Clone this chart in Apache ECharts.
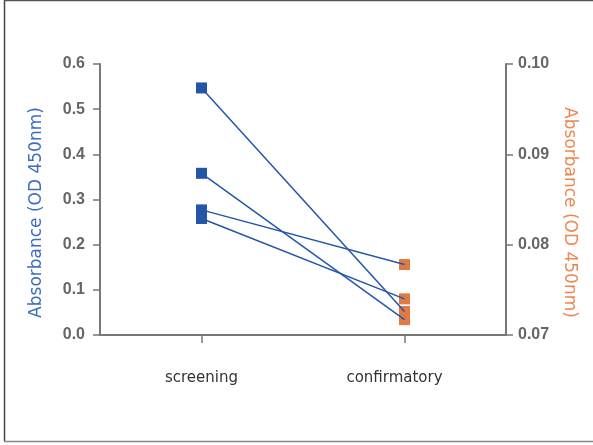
<!DOCTYPE html>
<html>
<head>
<meta charset="utf-8">
<script src="https://cdn.jsdelivr.net/npm/echarts@6/dist/echarts.min.js"></script>
<style>
html,body{margin:0;padding:0;background:#fff;}
#chart{width:593px;height:445px;}
</style>
</head>
<body>
<div id="chart"></div>
<script>
const categories = ['screening', 'confirmatory'];
const screeningValues = [0.547, 0.358, 0.277, 0.258];      // left axis
const confirmatoryValues = [0.0726, 0.0717, 0.0778, 0.0740]; // right axis, paired by index
const leftTicks = [0.0, 0.6, 0.1];
const rightTicks = [0.07, 0.10, 0.01];
const axisTitle = 'Absorbance (OD 450nm)';

const [lMin, lMax, lInt] = leftTicks;
const [rMin, rMax, rInt] = rightTicks;
// express a right-axis value on the left axis scale (both axes share the same plot height)
const toLeft = v => lMin + (v - rMin) / (rMax - rMin) * (lMax - lMin);

const blue = '#2356a8';
const orange = '#e07a43';
const axisGray = '#777';
const labelGray = '#666';

const series = [];
screeningValues.forEach((s, i) => {
  series.push({
    type: 'line',
    xAxisIndex: 0, yAxisIndex: 0,
    data: [[categories[0], s], [categories[1], toLeft(confirmatoryValues[i])]],
    showSymbol: false, symbol: 'none',
    lineStyle: {color: blue, width: 1.5},
    z: 3, silent: true, animation: false
  });
});
series.push({
  type: 'scatter', xAxisIndex: 0, yAxisIndex: 1,
  data: confirmatoryValues.map(v => [categories[1], v]),
  symbol: 'rect', symbolSize: 11,
  itemStyle: {color: orange, opacity: 1},
  z: 2, animation: false
});
series.push({
  type: 'scatter', xAxisIndex: 0, yAxisIndex: 0,
  data: screeningValues.map(v => [categories[0], v]),
  symbol: 'rect', symbolSize: 11,
  itemStyle: {color: blue, opacity: 1},
  z: 4, animation: false
});

const chart = echarts.init(document.getElementById('chart'), null, {renderer: 'canvas'});
chart.setOption({
  animation: false,
  grid: {left: 100, right: 87, top: 64, bottom: 110, containLabel: false},
  xAxis: {
    type: 'category',
    data: [
      {value: categories[0]},
      {value: categories[1], textStyle: {padding: [0, 20, 0, 0]}}
    ],
    boundaryGap: true,
    axisLine: {lineStyle: {color: axisGray, width: 2}},
    axisTick: {show: true, alignWithLabel: true, length: 8, lineStyle: {color: axisGray, width: 1.5}},
    axisLabel: {margin: 36, color: '#333', fontSize: 15, fontFamily: 'DejaVu Sans'},
    splitLine: {show: false}
  },
  yAxis: [
    {
      type: 'value', min: lMin, max: lMax, interval: lInt, position: 'left',
      name: axisTitle, nameLocation: 'middle', nameGap: 55,
      nameTextStyle: {color: '#3f6cc0', fontSize: 17, fontFamily: 'DejaVu Sans', fontWeight: 'normal', padding: [0, 26, 0, 0]},
      axisLine: {show: true, lineStyle: {color: axisGray, width: 2}},
      axisTick: {show: true, length: 7, lineStyle: {color: axisGray, width: 1.5}},
      axisLabel: {margin: 15, color: labelGray, fontSize: 16, fontWeight: 'bold', fontFamily: 'Liberation Sans',
        formatter: v => v.toFixed(1)},
      splitLine: {show: false}
    },
    {
      type: 'value', min: rMin, max: rMax, interval: rInt, position: 'right',
      name: axisTitle, nameLocation: 'middle', nameGap: 55, nameRotate: -90,
      nameTextStyle: {color: '#ee8752', fontSize: 17, fontFamily: 'DejaVu Sans', fontWeight: 'normal', padding: [0, 0, 0, 26]},
      axisLine: {show: true, lineStyle: {color: axisGray, width: 2}},
      axisTick: {show: true, length: 7, lineStyle: {color: axisGray, width: 1.5}},
      axisLabel: {margin: 12, color: labelGray, fontSize: 16, fontWeight: 'bold', fontFamily: 'Liberation Sans',
        formatter: v => v.toFixed(2)},
      splitLine: {show: false}
    }
  ],
  graphic: [
    {type: 'line', shape: {x1: 4.5, y1: 0, x2: 4.5, y2: 441}, style: {stroke: '#444', lineWidth: 1.5}, silent: true},
    {type: 'line', shape: {x1: 4, y1: 0.5, x2: 593, y2: 0.5}, style: {stroke: '#555', lineWidth: 1.5}, silent: true},
    {type: 'line', shape: {x1: 4, y1: 441.5, x2: 593, y2: 441.5}, style: {stroke: '#888', lineWidth: 1.5}, silent: true}
  ],
  series: series
});
</script>
</body>
</html>
